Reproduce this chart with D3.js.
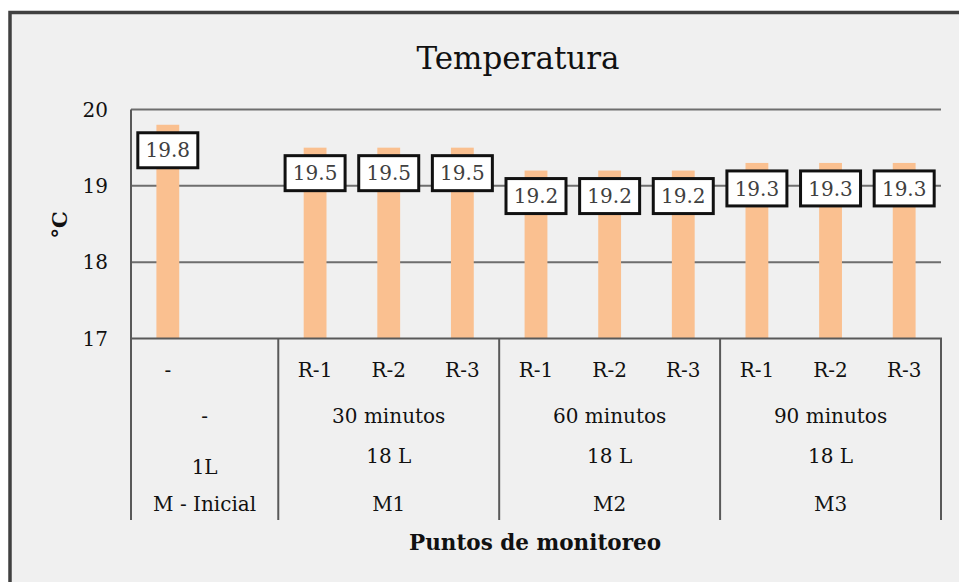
<!DOCTYPE html>
<html>
  <head>
    <meta charset="utf-8">
    <script src="https://d3js.org/d3.v7.min.js"></script>
    <title>Temperatura</title>
    <style>
      body { margin: 0; background: #fff; }
      text { font-family: "DejaVu Serif", serif; }
    </style>
  </head>
  <body>
    <div id="chart"></div>
  <script>

    // DATA

    const slots = ["-", "", "R-1", "R-2", "R-3", "R-1", "R-2", "R-3", "R-1", "R-2", "R-3"];
    const temps = [19.8, null, 19.5, 19.5, 19.5, 19.2, 19.2, 19.2, 19.3, 19.3, 19.3];
    const groupSpan = [2, 3, 3, 3];
    const tiempo = ["-", "30 minutos", "60 minutos", "90 minutos"];
    const volumen = ["1L", "18 L", "18 L", "18 L"];
    const muestra = ["M - Inicial", "M1", "M2", "M3"];
    const yTicks = [17, 18, 19, 20];

    // LAYOUT

    const W = 959, H = 582;
    const plot = {left: 131, right: 941, top: 109.5, bottom: 338.5};

    var svg = d3.select('#chart')
	.append('svg')
	.attr('width', W)
	.attr('height', H);

    // chart area with border
    svg.append('rect')
	.attr('x', 10).attr('y', 12.5)
	.attr('width', 1000).attr('height', 700)
	.attr('fill', '#f0f0f0')
	.attr('stroke', '#404040')
	.attr('stroke-width', 3.5);

    var x = d3.scaleBand()
	.domain(d3.range(slots.length))
	.range([plot.left, plot.right])
	.padding(0);

    var y = d3.scaleLinear()
	.domain([17, 20])
	.range([plot.bottom, plot.top]);

    // gridlines
    svg.selectAll('line.grid')
	.data(yTicks.filter(d => d > 17))
	.enter()
	.append('line')
	.attr('class', 'grid')
	.attr('x1', plot.left).attr('x2', plot.right)
	.attr('y1', d => y(d)).attr('y2', d => y(d))
	.attr('stroke', '#6e6e6e')
	.attr('stroke-width', 2);

    // y tick labels
    svg.selectAll('text.ytick')
	.data(yTicks)
	.enter()
	.append('text')
	.attr('class', 'ytick')
	.attr('x', 108)
	.attr('y', d => y(d))
	.attr('dy', '0.35em')
	.attr('text-anchor', 'end')
	.attr('font-size', 20)
	.attr('fill', '#111')
	.text(d => d);

    // bars
    var bw = x.bandwidth() * 0.31;
    svg.selectAll('rect.bar')
	.data(temps.map((v, i) => ({v: v, i: i})).filter(d => d.v != null))
	.enter()
	.append('rect')
	.attr('class', 'bar')
	.attr('x', d => x(d.i) + (x.bandwidth() - bw) / 2)
	.attr('width', bw)
	.attr('y', d => y(d.v))
	.attr('height', d => y(17) - y(d.v))
	.attr('fill', '#fac090');

    // axis lines
    svg.append('line')
	.attr('x1', plot.left).attr('x2', plot.left)
	.attr('y1', plot.top).attr('y2', plot.bottom)
	.attr('stroke', '#595959').attr('stroke-width', 2);

    svg.append('line')
	.attr('x1', plot.left - 1).attr('x2', plot.right + 1)
	.attr('y1', plot.bottom).attr('y2', plot.bottom)
	.attr('stroke', '#595959').attr('stroke-width', 2);

    // group dividers under the axis
    var edges = [0];
    groupSpan.forEach(s => edges.push(edges[edges.length - 1] + s));
    svg.selectAll('line.div')
	.data(edges)
	.enter()
	.append('line')
	.attr('class', 'div')
	.attr('x1', d => d < slots.length ? x(d) : plot.right)
	.attr('x2', d => d < slots.length ? x(d) : plot.right)
	.attr('y1', plot.bottom).attr('y2', 520)
	.attr('stroke', '#595959').attr('stroke-width', 2);

    // data labels
    var labels = svg.selectAll('g.lab')
	.data(temps.map((v, i) => ({v: v, i: i})).filter(d => d.v != null))
	.enter()
	.append('g')
	.attr('class', 'lab')
	.attr('transform', d => 'translate(' + (x(d.i) + x.bandwidth() / 2) + ',' + (y(d.v) + 25.5) + ')');

    labels.append('rect')
	.attr('x', -30).attr('y', -17.5)
	.attr('width', 60).attr('height', 35)
	.attr('fill', '#fff')
	.attr('stroke', '#111')
	.attr('stroke-width', 3);

    labels.append('text')
	.attr('text-anchor', 'middle')
	.attr('dy', '0.36em')
	.attr('font-size', 20)
	.attr('fill', '#404040')
	.text(d => d3.format('.1f')(d.v));

    // category labels, level 1
    svg.selectAll('text.cat')
	.data(slots)
	.enter()
	.append('text')
	.attr('class', 'cat')
	.attr('x', (d, i) => x(i) + x.bandwidth() / 2)
	.attr('y', 370)
	.attr('dy', '0.35em')
	.attr('text-anchor', 'middle')
	.attr('font-size', 20)
	.attr('fill', '#111')
	.text(d => d);

    // group levels
    var centers = groupSpan.map((s, g) => (x(edges[g]) + (edges[g + 1] < slots.length ? x(edges[g + 1]) : plot.right)) / 2);

    function groupRow(names, ys) {
	svg.append('g').selectAll('text')
	    .data(names)
	    .enter()
	    .append('text')
	    .attr('x', (d, g) => centers[g])
	    .attr('y', (d, g) => typeof ys === 'function' ? ys(g) : ys)
	    .attr('dy', '0.35em')
	    .attr('text-anchor', 'middle')
	    .attr('font-size', 20)
	    .attr('fill', '#111')
	    .text(d => d);
    }
    groupRow(tiempo, 416);
    groupRow(volumen, g => g === 0 ? 467 : 456);
    groupRow(muestra, 504);

    // titles
    svg.append('text')
	.attr('x', 518).attr('y', 69)
	.attr('text-anchor', 'middle')
	.attr('font-size', 31)
	.attr('fill', '#111')
	.text('Temperatura');

    svg.append('text')
	.attr('transform', 'translate(60,225) rotate(-90)')
	.attr('text-anchor', 'middle')
	.attr('dy', '0.35em')
	.attr('font-size', 21)
	.attr('font-weight', 'bold')
	.attr('fill', '#111')
	.text('°C');

    svg.append('text')
	.attr('x', 535).attr('y', 542)
	.attr('text-anchor', 'middle')
	.attr('dy', '0.35em')
	.attr('font-size', 21.5)
	.attr('font-weight', 'bold')
	.attr('fill', '#111')
	.text('Puntos de monitoreo');

  </script>
  </body>
</html>
